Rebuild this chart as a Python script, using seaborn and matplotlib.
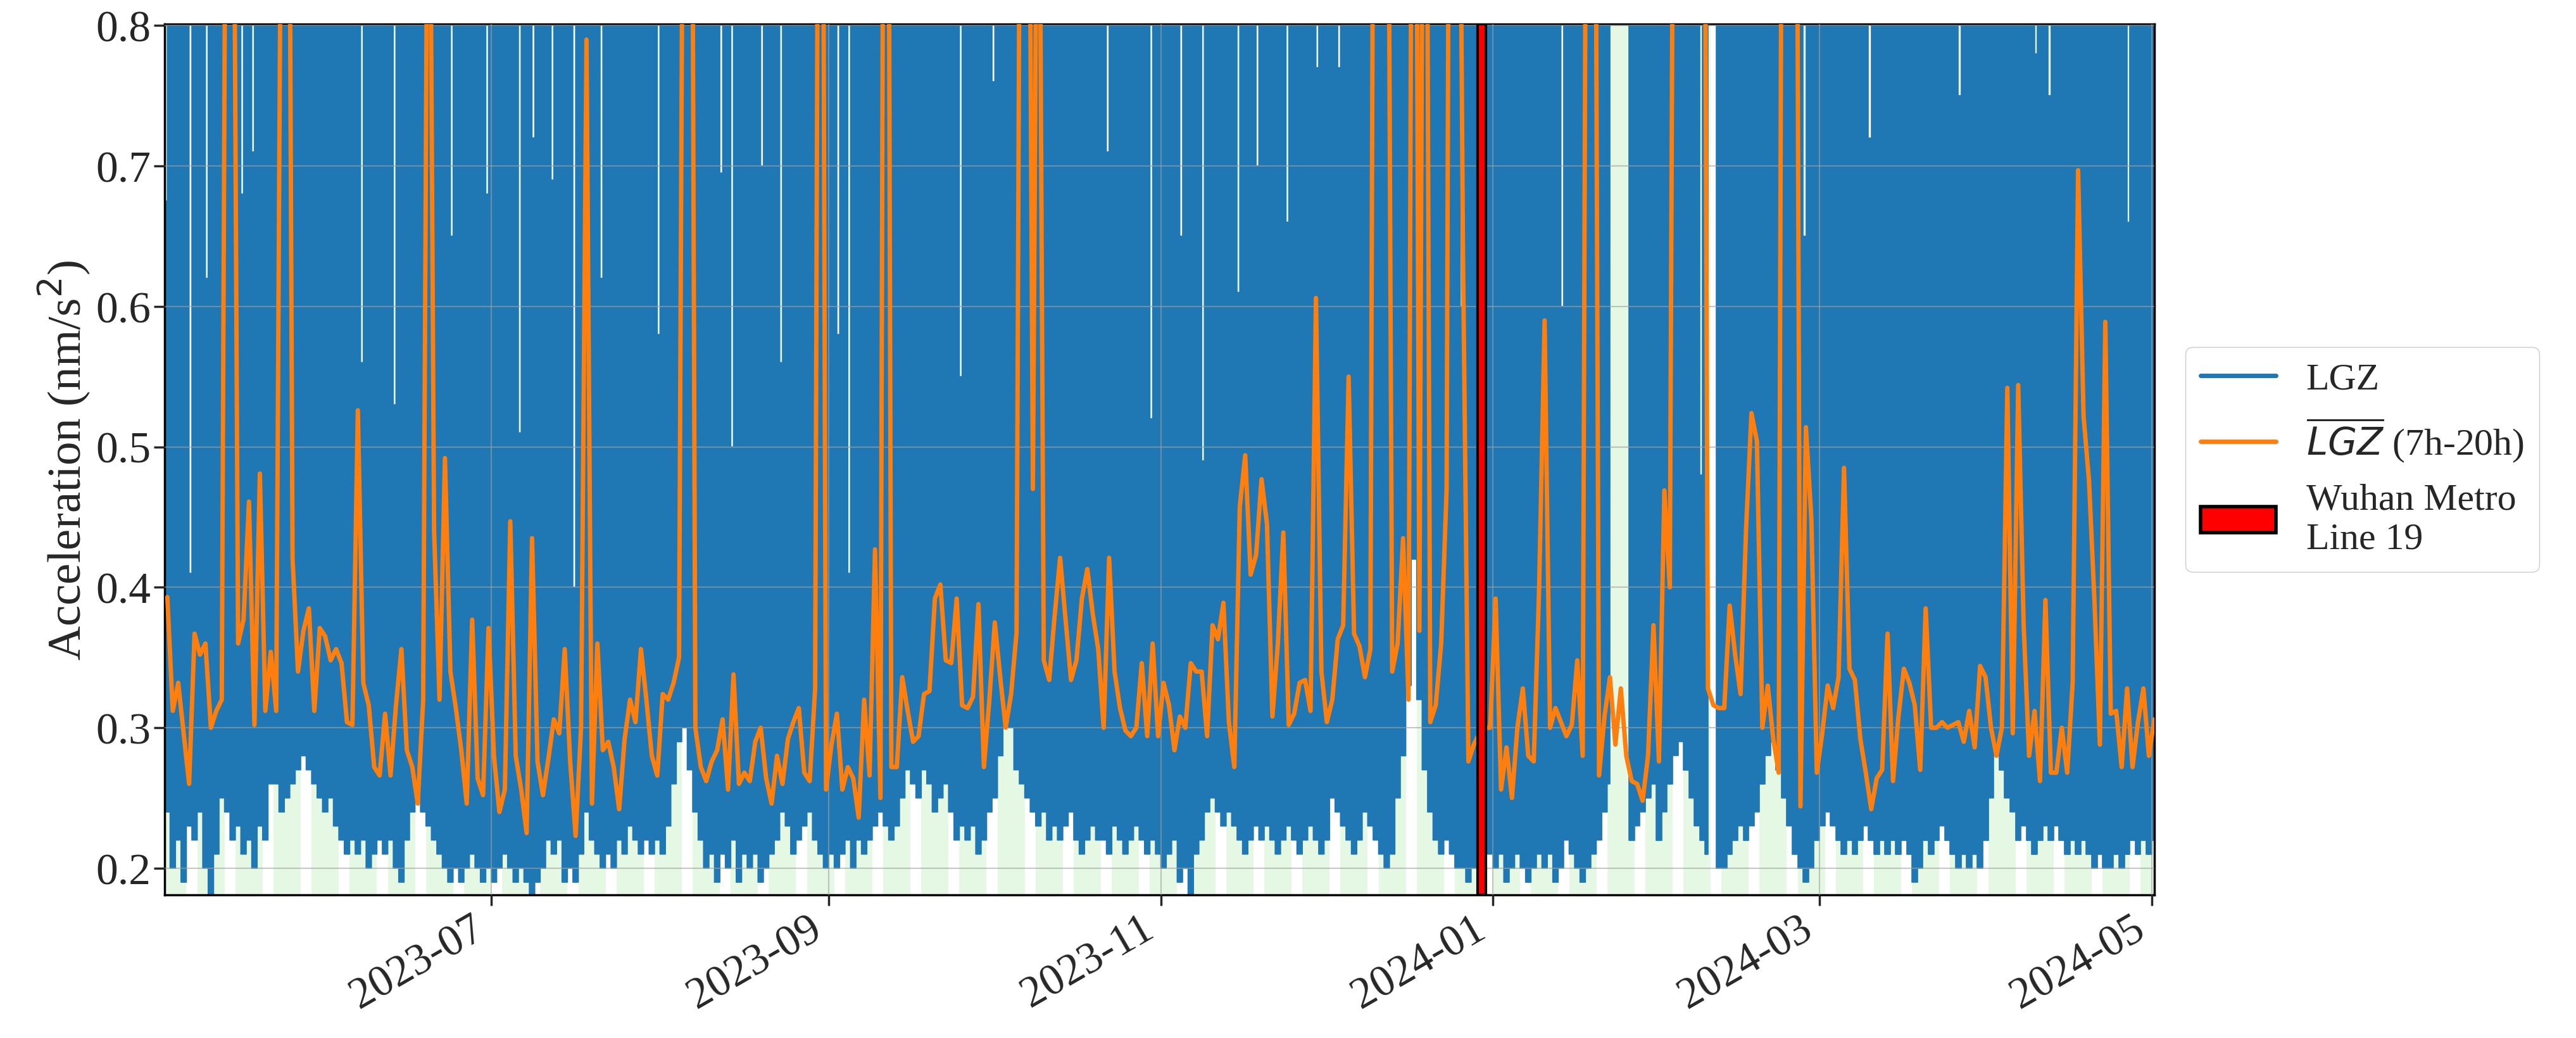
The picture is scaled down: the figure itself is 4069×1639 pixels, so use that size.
import numpy as np
import pandas as pd
import matplotlib
matplotlib.use("Agg")
from matplotlib import pyplot as plt
from matplotlib.lines import Line2D
from matplotlib.patches import Patch
import matplotlib.dates as mdates
import seaborn as sns

nan = np.nan
start = pd.Timestamp("2023-05-02")

# daily minimum (night) level of LGZ, nm/s^2, one per day from 2023-05-02
lgz_low = [
    0.24, 0.20, 0.22, 0.19, 0.23, 0.22, 0.24, 0.20, 0.18, 0.21,
    0.25, 0.24, 0.22, 0.23, 0.21, 0.22, 0.20, 0.23, 0.22, 0.26,
    0.26, 0.24, 0.25, 0.26, 0.27, 0.28, 0.27, 0.26, 0.25, 0.24,
    0.25, 0.23, 0.22, 0.21, 0.22, 0.21, 0.22, 0.20, 0.21, 0.22,
    0.21, 0.22, 0.20, 0.19, 0.22, 0.24, 0.25, 0.24, 0.23, 0.22,
    0.21, 0.20, 0.19, 0.20, 0.19, 0.20, 0.21, 0.20, 0.19, 0.20,
    0.19, 0.20, 0.21, 0.20, 0.19, 0.20, 0.19, 0.18, 0.19, 0.20,
    0.22, 0.21, 0.22, 0.19, 0.20, 0.19, 0.21, 0.24, 0.22, 0.21,
    0.20, 0.21, 0.20, 0.22, 0.21, 0.23, 0.22, 0.21, 0.22, 0.21, 0.22, 0.21,
    0.23, 0.26, 0.29, 0.30, 0.27, 0.24, 0.22, 0.20, 0.21, 0.19,
    0.21, 0.20, 0.22, 0.19, 0.21, 0.20, 0.21, 0.19, 0.20, 0.21,
    0.22, 0.24, 0.23, 0.21, 0.22, 0.23, 0.24, 0.22, 0.21, 0.20,
    0.21, 0.20, 0.21, 0.22, 0.20, 0.22, 0.21, 0.22, 0.23, 0.24,
    0.23, 0.22, 0.23, 0.25, 0.27, 0.26, 0.25, 0.27, 0.26, 0.24,
    0.25, 0.26, 0.24, 0.22, 0.23, 0.22, 0.23, 0.21, 0.22, 0.24,
    0.25, 0.28, 0.31, 0.30, 0.27, 0.26, 0.25, 0.24, 0.23, 0.24,
    0.22, 0.23, 0.22, 0.23, 0.24, 0.22, 0.21, 0.22, 0.23, 0.22,
    0.22, 0.21, 0.23, 0.22, 0.21, 0.22, 0.23, 0.22, 0.21, 0.22, 0.21,
    0.20, 0.21, 0.22, 0.19, 0.20, 0.18, 0.21, 0.22, 0.24, 0.25,
    0.24, 0.23, 0.24, 0.23, 0.22, 0.21, 0.22, 0.23, 0.22, 0.23,
    0.22, 0.21, 0.22, 0.23, 0.22, 0.21, 0.22, 0.23, 0.22, 0.21,
    0.22, 0.25, 0.24, 0.23, 0.22, 0.21, 0.22, 0.24, 0.23, 0.22,
    0.21, 0.20, 0.21, 0.25, 0.28, 0.33, 0.42, 0.32, 0.27, 0.24,
    0.22, 0.21, 0.22, 0.21, 0.20, 0.20, 0.19, 0.20, 0.21, 0.22,
    0.21, 0.20, 0.21, 0.19, 0.20, 0.21, 0.20, 0.19, 0.20, 0.21,
    0.20, 0.21, 0.19, 0.20, 0.22, 0.21, 0.20, 0.19, 0.20, 0.21,
    0.22, 0.24, 0.26, nan, nan, nan, 0.22, 0.23, 0.24, 0.25, 0.26,
    0.22, 0.24, 0.26, 0.28, 0.29, 0.27, 0.25, 0.23, 0.22, 0.21,
    nan, 0.20, 0.20, 0.21, 0.22, 0.23, 0.22,
    0.23, 0.24, 0.26, 0.28, 0.29, 0.27, 0.25, 0.23, 0.21, 0.20,
    0.19, 0.20, 0.22, 0.23, 0.24, 0.23, 0.22, 0.21, 0.22, 0.21,
    0.22, 0.23, 0.22, 0.21, 0.22, 0.21, 0.22, 0.21, 0.22, 0.21,
    0.19, 0.20, 0.22, 0.21, 0.22, 0.23, 0.22, 0.21, 0.20, 0.21,
    0.20, 0.21, 0.20, 0.22, 0.25, 0.28, 0.27, 0.25, 0.24, 0.22,
    0.23, 0.22, 0.21, 0.22, 0.23, 0.22, 0.23, 0.22, 0.21, 0.22,
    0.21, 0.22, 0.21, 0.20, 0.21, 0.20, 0.20, 0.21, 0.20, 0.21,
    0.22, 0.21, 0.22, 0.21, 0.22,
]

# days (offset from start) where the daytime maximum stayed below the top of the axis
gap_day = [0.3, 4.5, 7.7, 14, 16, 36.2, 42.4, 52.5, 59.3, 65, 67.6, 71.2, 75, 80.4, 90.5,
           102.3, 104, 109.7, 113, 123.9, 125.7, 146.4, 152.4, 173.1, 181.1,
           186.7, 190.9, 197.4, 200.7, 206.3, 211.6, 215.5, 238, 256.7,
           276.5, 282.2, 301, 313.3, 329.6, 343.9, 346.2, 360.5]
gap_top = [0.675, 0.41, 0.62, 0.68, 0.71, 0.56, 0.53, 0.65, 0.68, 0.51, 0.72, 0.69, 0.40, 0.62, 0.58,
           0.695, 0.50, 0.70, 0.56, 0.58, 0.41, 0.55, 0.76, 0.71, 0.52,
           0.65, 0.49, 0.61, 0.70, 0.66, 0.77, 0.77, 0.60, 0.60,
           0.57, 0.48, 0.65, 0.72, 0.75, 0.78, 0.75, 0.66]

# daily mean LGZ between 7h and 20h
mean_a = [0.393, 0.312, 0.332, 0.296, 0.260, 0.367, 0.352, 0.360, 0.300,
          0.312, 0.320, 1.2, 1.1, 0.360, 0.377, 0.461, 0.302, 0.481,
          0.312, 0.354, 0.312, 1.0, 1.3, 0.421, 0.340, 0.369, 0.385,
          0.312, 0.371, 0.365, 0.348, 0.356, 0.346, 0.304, 0.302, 0.526, 0.332,
          0.316, 0.272, 0.266, 0.310, 0.266, 0.316, 0.356, 0.284, 0.272, 0.246,
          0.320, 1.1, 0.441, 0.320, 0.492, 0.340, 0.314, 0.284, 0.246,
          0.377, 0.264, 0.252, 0.371, 0.280, 0.240, 0.256, 0.447, 0.280, 0.256,
          0.225, 0.435, 0.276, 0.252, 0.278, 0.306, 0.296, 0.356, 0.276,
          0.223, 0.300, 0.79, 0.246, 0.360, 0.284, 0.290, 0.272, 0.242, 0.292,
          0.320, 0.304, 0.356, 0.320, 0.280, 0.266, 0.324]
mean_b = [0.320, 0.332, 0.350, 1.2, 1.4, 0.300, 0.272, 0.262, 0.276, 0.284,
          0.306, 0.256, 0.338, 0.260, 0.268, 0.262, 0.290, 0.300, 0.264, 0.246,
          0.280, 0.260, 0.292, 0.304, 0.314, 0.268, 0.262, 0.328, 1.5, 0.256,
          0.288, 0.310, 0.256, 0.272, 0.264, 0.236, 0.320, 0.266, 0.427, 0.250,
          1.6, 0.272, 0.272, 0.336, 0.312, 0.290, 0.294, 0.324, 0.326, 0.392,
          0.402, 0.348, 0.346, 0.392, 0.316, 0.314, 0.322, 0.388, 0.272, 0.320,
          0.375, 0.336, 0.300, 0.324, 0.368, 1.3, 1.2, 0.47, 1.1, 0.348,
          0.334, 0.380, 0.421, 0.377, 0.334, 0.348, 0.392, 0.413, 0.381, 0.356,
          0.300, 0.421, 0.340, 0.314, 0.298, 0.294, 0.300, 0.346, 0.294, 0.360,
          0.294, 0.332, 0.316, 0.284, 0.308]
mean_c = [0.300, 0.346, 0.340, 0.340, 0.294, 0.373, 0.363, 0.389, 0.304, 0.272,
          0.457, 0.494, 0.409, 0.423, 0.477, 0.445, 0.308, 0.360, 0.439, 0.302,
          0.310, 0.332, 0.334, 0.312, 0.606, 0.340, 0.304, 0.320, 0.363, 0.373,
          0.550, 0.367, 0.358, 0.336, 0.356, 1.5, 0.9, 1.2, 0.340, 0.360,
          0.435, 0.320, 1.4, 0.369, 1.3, 0.304, 0.316, 0.360, 0.470, 1.6,
          1.2, 0.640, 0.276, 0.288, 0.296, 0.300, 0.300, 0.392, 0.256, 0.286,
          0.250, 0.300, 0.328, 0.280, 0.276, 0.400, 0.590, 0.300, 0.314, 0.304,
          0.294, 0.302, 0.348, 0.280, 1.4, 1.3, 0.266, 0.308, 0.336, 0.288,
          0.328, 0.280, 0.262, 0.260, 0.248, 0.280, 0.373, 0.276, 0.469, 0.400,
          1.3, 1.2, nan, nan, nan, 1.4, 0.328, 0.316, 0.314]
mean_d = [0.314, 0.387, 0.352, 0.324, 0.441, 0.524, 0.504, 0.300, 0.330, 0.292,
          0.268, 1.5, nan, 1.3, 0.244, 0.514, 0.449, 0.268, 0.296, 0.330,
          0.314, 0.336, 0.485, 0.342, 0.334, 0.292, 0.268, 0.242, 0.264, 0.270,
          0.367, 0.262, 0.308, 0.342, 0.332, 0.316, 0.270, 0.385, 0.300, 0.300,
          0.304, 0.300, 0.302, 0.304, 0.290, 0.312, 0.286, 0.344, 0.336, 0.300,
          0.280, 0.300, 0.542, 0.296, 0.544, 0.373, 0.280, 0.312, 0.262, 0.391,
          0.268, 0.268, 0.300, 0.268, 0.332, 0.697, 0.522, 0.476, 0.391, 0.288,
          0.589, 0.310, 0.312, 0.272, 0.328, 0.272, 0.304, 0.328, 0.280, 0.306,
          0.304, 0.262, 0.276, 0.352, 0.356, 0.296, 0.248, 1.3, 1.2, 0.316,
          0.385, 0.264]

metro_day = "2023-12-30"

# ---- build frames ----
days = pd.date_range(start, periods=len(lgz_low), freq="D")
low = np.repeat(np.array(lgz_low, dtype=float), 2)
high = np.where(np.isnan(low), nan, 1.5)
for d, t in zip(gap_day, gap_top):
    k = int(d) * 2 + (1 if d % 1 >= 0.5 else 0)
    if k < len(high):
        high[k] = t
half = pd.date_range(start, periods=len(low), freq="12h")
half_x = half.append(pd.DatetimeIndex([half[-1] + pd.Timedelta(hours=12)]))
low_x = np.append(low, low[-1])
high_x = np.append(high, high[-1])

mean_vals = mean_a + mean_b + mean_c + mean_d
mean_df = pd.DataFrame({
    "date": pd.date_range(start + pd.Timedelta(hours=12), periods=len(mean_vals), freq="D"),
    "value": mean_vals,
})

sns.set_style("white")
plt.rcParams["font.family"] = ["Liberation Serif", "DejaVu Serif"]

fig = plt.figure(figsize=(40.69, 16.4), dpi=100)
ax = fig.add_axes([0.0639, 0.1378, 0.7724, 0.8384])

# weekday shading
for d in days:
    if d.weekday() < 5:
        ax.axvspan(d, d + pd.Timedelta(days=1), color="#e4f8e4", lw=0, zorder=0)

ax.fill_between(half_x, low_x, high_x, step="post", facecolor="#1f77b4",
                edgecolor="#1f77b4", lw=1.2, zorder=1)
sns.lineplot(data=mean_df, x="date", y="value", ax=ax, color="#ff7f0e", lw=5, zorder=3)

m = pd.Timestamp(metro_day)
ax.axvspan(m - pd.Timedelta(hours=18), m + pd.Timedelta(hours=18), facecolor="red",
           edgecolor="black", lw=3, zorder=4)

ax.set_xlim(start, pd.Timestamp("2024-05-01 12:00"))
ax.set_ylim(0.181, 0.801)
ax.set_yticks([0.2, 0.3, 0.4, 0.5, 0.6, 0.7, 0.8])
ax.xaxis.set_major_locator(mdates.MonthLocator(bymonth=[1, 3, 5, 7, 9, 11]))
ax.xaxis.set_major_formatter(mdates.DateFormatter("%Y-%m"))
ax.set_axisbelow(False)
ax.grid(True, color="#a0a0a0", lw=1.5, alpha=0.6)
ax.set_xlabel("")
ax.set_ylabel("Acceleration (nm/s$^2$)", fontsize=54)
ax.tick_params(axis="both", labelsize=50, length=12, width=2.5, direction="out", left=True, bottom=True)
for lab in ax.get_xticklabels():
    lab.set_rotation(30)
    lab.set_ha("right")
for s in ax.spines.values():
    s.set_color("black")
    s.set_linewidth(2.5)

handles = [
    Line2D([], [], color="#1f77b4", lw=5),
    Line2D([], [], color="#ff7f0e", lw=5),
    Patch(facecolor="red", edgecolor="black", lw=4),
]
labels = ["LGZ", r"$\overline{LGZ}$ (7h-20h)", "Wuhan Metro\nLine 19"]
ax.legend(handles, labels, loc="center left", bbox_to_anchor=(1.006, 0.5), fontsize=43,
          frameon=True, framealpha=1, edgecolor="#cccccc", handlelength=2.0)

fig.savefig("out.png", dpi=100)
